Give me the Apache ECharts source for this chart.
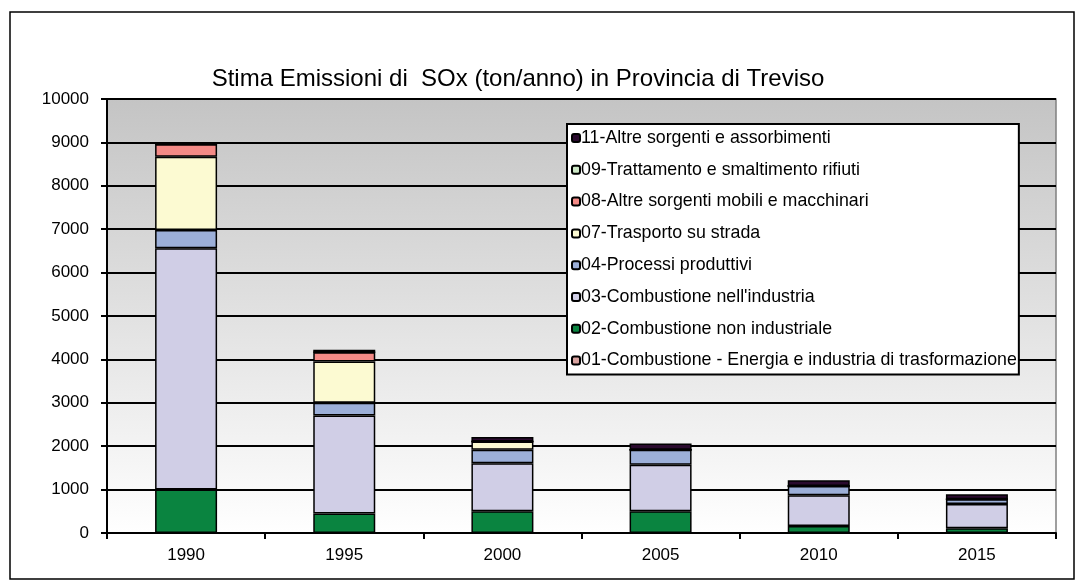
<!DOCTYPE html>
<html>
<head>
<meta charset="utf-8">
<script src="https://cdn.jsdelivr.net/npm/echarts@6/dist/echarts.min.js"></script>
<style>
  html, body { margin: 0; padding: 0; background: #fff; }
  #chart { width: 1083px; height: 588px; }
</style>
</head>
<body>
<div id="chart"></div>
<script>
// anni sull'asse x
const years = ["1990", "1995", "2000", "2005", "2010", "2015"];

// valori stimati (ton/anno) per macrosettore
const energia = [0, 0, 0, 0, 0, 0];                     // 01
const nonIndustriale = [1000, 450, 500, 500, 160, 110]; // 02
const industria = [5560, 2260, 1110, 1075, 710, 560];   // 03
const processi = [420, 290, 310, 345, 215, 105];        // 04
const trasporto = [1690, 950, 190, 0, 0, 0];            // 07
const altreMobili = [290, 215, 0, 0, 0, 0];             // 08
const rifiuti = [0, 0, 0, 0, 0, 0];                     // 09
const altreSorgenti = [40, 60, 100, 140, 130, 120];     // 11

const yTicks = [0, 10000, 1000];

const seriesDef = [
  { name: "01-Combustione - Energia e industria di trasformazione", data: energia, color: "#D9A3A0" },
  { name: "02-Combustione non industriale", data: nonIndustriale, color: "#0A8440" },
  { name: "03-Combustione nell'industria", data: industria, color: "#D0CEE6" },
  { name: "04-Processi produttivi", data: processi, color: "#9CAFD8" },
  { name: "07-Trasporto su strada", data: trasporto, color: "#FCFAD2" },
  { name: "08-Altre sorgenti mobili e macchinari", data: altreMobili, color: "#F48A86" },
  { name: "09-Trattamento e smaltimento rifiuti", data: rifiuti, color: "#CDE8C6" },
  { name: "11-Altre sorgenti e assorbimenti", data: altreSorgenti, color: "#2A0A2E" }
];

const chart = echarts.init(document.getElementById("chart"));

const font = "'Liberation Sans', Arial, sans-serif";

chart.setOption({
  animation: false,
  backgroundColor: "#fff",
  textStyle: { fontFamily: font },
  title: {
    text: "Stima Emissioni di  SOx (ton/anno) in Provincia di Treviso",
    left: 513,
    textAlign: "center",
    top: 62,
    textStyle: { fontSize: 24, fontWeight: "normal", color: "#000", fontFamily: font }
  },
  graphic: [{
    type: "rect",
    shape: { x: 10, y: 12, width: 1064, height: 567 },
    style: { fill: "none", stroke: "#000", lineWidth: 1.5 },
    silent: true,
    z: -1
  }],
  legend: {
    orient: "vertical",
    left: 567,
    top: 124,
    data: seriesDef.map(s => s.name).reverse(),
    itemWidth: 8,
    itemHeight: 8,
    itemGap: 13.8,
    padding: [5, 2, 5, 4],
    backgroundColor: "#fff",
    borderColor: "#000",
    borderWidth: 2,
    textStyle: { fontSize: 17.8, color: "#000", fontFamily: font, padding: [0, 0, 0, -4] },
    selectedMode: false
  },
  grid: {
    left: 107,
    right: 27,
    top: 99,
    bottom: 55,
    show: true,
    borderColor: "#808080",
    borderWidth: 1.5,
    backgroundColor: new echarts.graphic.LinearGradient(0, 0, 0, 1, [
      { offset: 0, color: "#C4C4C4" },
      { offset: 1, color: "#FFFFFF" }
    ])
  },
  xAxis: {
    type: "category",
    data: years,
    axisLine: { lineStyle: { color: "#000", width: 2 } },
    axisTick: { show: true, length: 6, lineStyle: { color: "#000", width: 2 } },
    axisLabel: { fontSize: 17, color: "#000", margin: 14, fontFamily: font }
  },
  yAxis: {
    type: "value",
    min: yTicks[0],
    max: yTicks[1],
    interval: yTicks[2],
    axisLine: { show: true, lineStyle: { color: "#000", width: 2 } },
    axisTick: { show: true, length: 6, lineStyle: { color: "#000", width: 2 } },
    axisLabel: { fontSize: 17, color: "#000", margin: 18, fontFamily: font, formatter: v => String(v) },
    splitLine: { lineStyle: { color: "#000", width: 2 } }
  },
  series: seriesDef.map(s => ({
    name: s.name,
    type: "bar",
    stack: "tot",
    barWidth: 62,
    data: s.data,
    itemStyle: { color: s.color, borderColor: "#000", borderWidth: 1.5 },
    emphasis: { disabled: true }
  }))
});
</script>
</body>
</html>
